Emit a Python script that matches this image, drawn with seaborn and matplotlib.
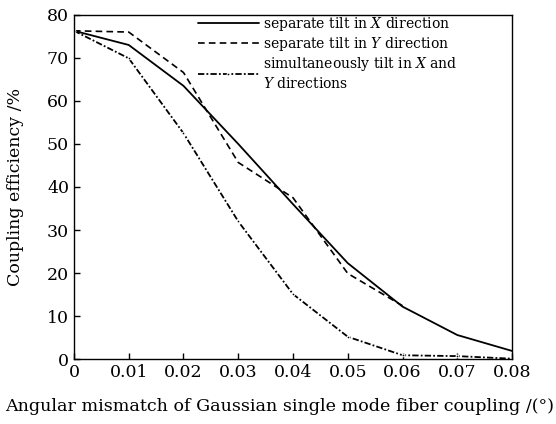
import numpy as np
import pandas as pd
import matplotlib
matplotlib.use('Agg')
import matplotlib.pyplot as plt
import seaborn as sns

angle = [0, 0.01, 0.02, 0.03, 0.04, 0.05, 0.06, 0.07, 0.08]
tilt_x = [76.3, 73.0, 63.5, 50.0, 36.0, 22.3, 12.2, 5.6, 1.9]
tilt_y = [76.3, 76.0, 66.6, 45.7, 37.5, 19.9, 12.4]
tilt_xy = [76.3, 69.9, 52.5, 32.0, 15.1, 5.2, 0.9, 0.7, 0.1]

labels = ['separate tilt in $X$ direction',
          'separate tilt in $Y$ direction',
          'simultaneously tilt in $X$ and\n$Y$ directions']

sns.set_style('ticks')
plt.rcParams['font.family'] = ['DejaVu Serif']
plt.rcParams['mathtext.fontset'] = 'dejavuserif'
plt.rcParams['text.color'] = 'black'
plt.rcParams['axes.labelcolor'] = 'black'

fig = plt.figure(figsize=(5.56, 4.24), dpi=100)
ax = fig.add_axes([0.133, 0.153, 0.788, 0.812])

sns.lineplot(x=angle, y=tilt_x, ax=ax, color='black', lw=1.3, label=labels[0])
sns.lineplot(x=angle[:len(tilt_y)], y=tilt_y, ax=ax, color='black', lw=1.2,
             label=labels[1])
ax.lines[-1].set_dashes((4, 2.5))
sns.lineplot(x=angle, y=tilt_xy, ax=ax, color='black', lw=1.3, marker='.',
             markersize=4, label=labels[2])
ax.lines[-1].set_dashes((3.5, 1.2, 1, 1.2))

ax.set_xlim(0, 0.08)
ax.set_ylim(0, 80)
ax.set_xticks(angle)
ax.set_xticklabels(['0', '0.01', '0.02', '0.03', '0.04', '0.05', '0.06', '0.07', '0.08'])
ax.set_yticks(np.arange(0, 81, 10))
ax.tick_params(direction='in', length=4, width=1, labelsize=12.5, colors='black',
               top=False, right=False)
for s in ax.spines.values():
    s.set_visible(True)
    s.set_color('black')
    s.set_linewidth(1.0)

ax.set_xlabel('Angular mismatch of Gaussian single mode fiber coupling /(°)', fontsize=12.6)
ax.xaxis.set_label_coords(0.47, -0.112)
ax.set_ylabel('Coupling efficiency /%', fontsize=12.5)
ax.yaxis.set_label_coords(-0.113, 0.5)

leg = ax.legend(loc='upper left', bbox_to_anchor=(0.27, 1.015), frameon=False,
                handlelength=4.4, handletextpad=0.3, labelspacing=0.15, fontsize=10,
                borderaxespad=0)
leg.legend_handles[1].set_dashes((4, 2.5))
leg.legend_handles[2].set_dashes((3.5, 1.2, 1, 1.2))

fig.savefig('out.png', dpi=100)
